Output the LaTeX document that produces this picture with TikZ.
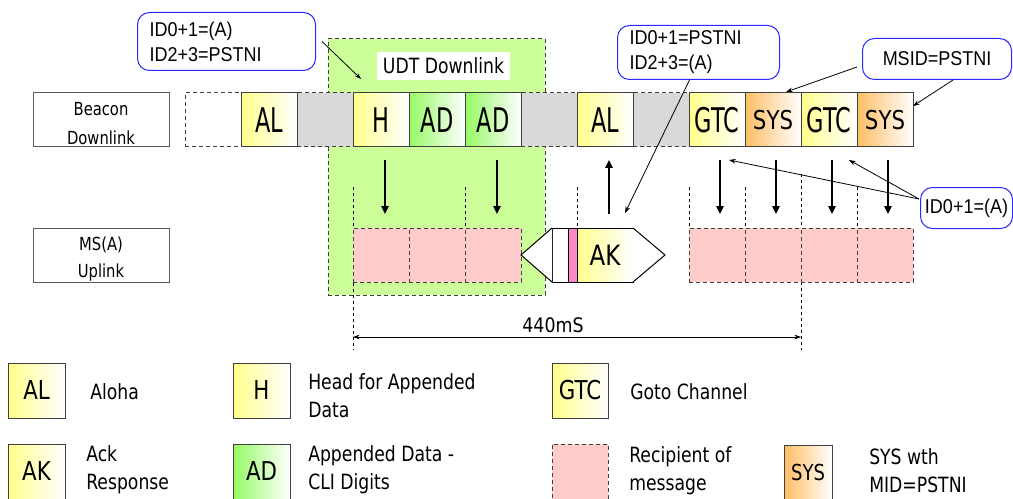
\documentclass[tikz,border=0pt]{standalone}
\usepackage{fontspec}
\usetikzlibrary{arrows.meta,calc}
\newfontfamily\legfont{DejaVu Sans}[FakeStretch=0.82]
\newfontfamily\slotfont{DejaVu Sans}[FakeStretch=0.66]
\newfontfamily\msfont{DejaVu Sans}[FakeStretch=0.87]
\newfontfamily\arialfont{Liberation Sans}[FakeStretch=0.9]
\definecolor{cyel}{RGB}{255,255,140}
\definecolor{cgrn}{RGB}{150,250,100}
\definecolor{corg}{RGB}{255,190,100}
\definecolor{cgreg}{RGB}{204,255,153}
\definecolor{cpink}{RGB}{255,204,204}
\definecolor{cgray}{RGB}{217,217,217}
\definecolor{cbar}{RGB}{255,136,200}
\definecolor{cblue}{RGB}{40,40,255}
\definecolor{cedge}{RGB}{64,64,64}
\tikzset{
 box/.style={inner sep=0pt, outer sep=0pt, anchor=north west, minimum width=42pt, minimum height=40.5pt},
 solidslot/.style={box, draw=cedge, line width=0.75pt},
 dashslot/.style={box, draw=cedge, line width=0.75pt, dash pattern=on 3pt off 2.25pt},
 yslot/.style={solidslot, left color=cyel, right color=white, font=\slotfont\fontsize{25.5}{25.5}\selectfont},
 gslot/.style={yslot, left color=cgrn},
 oslot/.style={solidslot, left color=corg, right color=white, font=\legfont\fontsize{19.5}{19.5}\selectfont},
 grayslot/.style={dashslot, fill=cgray},
 emptyslot/.style={dashslot, fill=white},
 pinkslot/.style={dashslot, fill=cpink},
 legbox/.style={solidslot, minimum width=42.75pt, minimum height=41.25pt, font=\legfont\fontsize{19.5}{19.5}\selectfont},
 legtext/.style={anchor=west, inner sep=0pt, align=left, font=\legfont\fontsize{15.75}{21}\selectfont},
 lbltext/.style={inner sep=0pt, font=\legfont\fontsize{13.5}{13.5}\selectfont},
 callout/.style={draw=cblue, line width=0.75pt, rounded corners=9pt, fill=white, anchor=north west, inner ysep=0pt, font=\arialfont\fontsize{15}{18.75}\selectfont},
 bigarrow/.style={line width=1.5pt, -{Triangle[length=6pt,width=5.5pt]}},
 thinarrow/.style={line width=0.6pt, -{Stealth[length=5pt,width=3.5pt]}},
 dimarrow/.style={line width=0.6pt, {Stealth[length=5pt,width=3.5pt]}-{Stealth[length=5pt,width=3.5pt]}},
 guide/.style={line width=0.6pt, dash pattern=on 2.25pt off 2.25pt},
}
\begin{document}
\begin{tikzpicture}[x=0.75pt,y=-0.75pt]
\useasboundingbox (0,0) rectangle (1013,499);
% UDT downlink region
\node[box, fill=cgreg, draw=cedge, line width=0.75pt, dash pattern=on 3pt off 2.25pt, minimum width=162.75pt, minimum height=192pt] (udt) at (328,39) {};
\node[box, fill=white, minimum width=99.75pt, minimum height=21pt, font=\legfont\fontsize{15.75}{15.75}\selectfont] (udtl) at (377,52) {UDT Downlink};
% row labels
\node[solidslot, minimum width=102pt, draw=black!65] (bl) at (33,93) {};
\node[lbltext] (blt1) at (101,109) {Beacon};
\node[lbltext] (blt2) at (101,138) {Downlink};
\node[solidslot, minimum width=102pt, draw=black!65] (ml) at (33,228) {};
\node[lbltext] (mlt1) at (101,245) {MS(A)};
\node[lbltext] (mlt2) at (101,273) {Uplink};
% guides
\draw[guide] (353,187) -- (353,350);
\draw[guide] (801,174) -- (801,350);
\foreach \gx in {465,577,689,745,857} \draw[guide] (\gx,187) -- (\gx,228);
% downlink row
\node[emptyslot] (d0) at (185,93) {};
\node[grayslot] (g1) at (297,93) {};
\node[grayslot] (g2) at (521,93) {};
\node[grayslot] (g3) at (633,93) {};
\node[yslot] (al1) at (241,93) {AL};
\node[yslot] (h) at (353,93) {H};
\node[gslot] (ad1) at (409,93) {AD};
\node[gslot] (ad2) at (465,93) {AD};
\node[yslot] (al2) at (577,93) {AL};
\node[yslot] (gtc1) at (689,93) {GTC};
\node[oslot] (sys1) at (745,93) {SYS};
\node[yslot] (gtc2) at (801,93) {GTC};
\node[oslot] (sys2) at (857,93) {SYS};
% uplink row
\node[pinkslot] (u1) at (353,228) {};
\node[pinkslot] (u2) at (409,228) {};
\node[pinkslot] (u3) at (465,228) {};
\node[pinkslot] (u4) at (689,228) {};
\node[pinkslot] (u5) at (745,228) {};
\node[pinkslot] (u6) at (801,228) {};
\node[pinkslot] (u7) at (857,228) {};
% AK burst
\node[solidslot, draw=black, fill=white, minimum width=12pt] (akw) at (552,228) {};
\node[solidslot, draw=black, fill=cbar, minimum width=6.75pt] (akp) at (568,228) {};
\node[yslot, draw=black, font=\legfont\fontsize{21}{21}\selectfont] (ak) at (577,228) {AK};
\coordinate (akL) at (521,255);
\coordinate (akR) at (665,255);
\draw[line width=0.75pt, fill=white] (akw.north west) -- (akL) -- (akw.south west);
\draw[line width=0.75pt, fill=white] (ak.north east) -- (akR) -- (ak.south east);
% vertical arrows
\draw[bigarrow] ($(h.south)+(4,13)$) -- ($(h.south)+(4,67)$);
\draw[bigarrow] ($(ad2.south)+(4,13)$) -- ($(ad2.south)+(4,67)$);
\draw[bigarrow] ($(al2.south)+(4,67)$) -- ($(al2.south)+(4,13)$);
\draw[bigarrow] ($(gtc1.south)+(3,13)$) -- ($(gtc1.south)+(3,67)$);
\draw[bigarrow] ($(sys1.south)+(3,13)$) -- ($(sys1.south)+(3,67)$);
\draw[bigarrow] ($(gtc2.south)+(3,13)$) -- ($(gtc2.south)+(3,67)$);
\draw[bigarrow] ($(sys2.south)+(3,13)$) -- ($(sys2.south)+(3,67)$);
% callouts
\node[callout, inner xsep=9pt, text width=115.5pt, minimum height=43.5pt, align=left] (c1) at (137,12) {ID0+1=(A)\\ID2+3=PSTNI};
\node[callout, inner xsep=9pt, text width=103.5pt, minimum height=40.5pt, align=left] (c2) at (617,25) {ID0+1=PSTNI\\ID2+3=(A)};
\node[callout, inner xsep=9pt, text width=93.75pt, minimum height=30.75pt, align=center] (c3) at (862,38) {MSID=PSTNI};
\node[callout, inner xsep=3pt, text width=63pt, minimum height=30.75pt, align=center] (c4) at (920,187) {ID0+1=(A)};
\draw[thinarrow] ($(c1.east)+(6,0)$) -- ($(h.north west)+(8,-14)$);
\draw[thinarrow] ($(c2.south)+(-9,0)$) -- ($(ak.north)+(20,-15)$);
\draw[thinarrow] ($(c3.south west)+(-5,-13)$) -- ($(sys1.north)+(13,-1)$);
\draw[thinarrow] ($(c3.south)+(16,0)$) -- ($(sys2.north east)+(0,13)$);
\draw[thinarrow] ($(c4.west)+(-1,-9)$) -- ($(gtc1.south)+(12,13)$);
\draw[thinarrow] ($(c4.west)+(-1,-9)$) -- ($(gtc2.south)+(20,13)$);
% 440mS
\coordinate (m1) at (353,337);
\coordinate (m2) at (801,337);
\draw[dimarrow] (m1) -- (m2);
\node[inner sep=0pt, font=\msfont\fontsize{15}{15}\selectfont] (ms) at (553,325) {440mS};
% legend
\node[legbox, left color=cyel, right color=white] (lal) at (8,363) {AL};
\node[legtext] (tal) at (90,392) {Aloha};
\node[legbox, left color=cyel, right color=white] (lh) at (233,363) {H};
\node[legtext] (th) at (308,396) {Head for Appended\\Data};
\node[legbox, left color=cyel, right color=white, minimum width=42pt] (lgtc) at (552,363) {GTC};
\node[legtext] (tgtc) at (630,392) {Goto Channel};
\node[legbox, left color=cyel, right color=white] (lak) at (8,444) {AK};
\node[legtext] (tak) at (86,470) {Ack\\Response};
\node[legbox, left color=cgrn, right color=white] (lad) at (233,444) {AD};
\node[legtext] (tad) at (308,470) {Appended Data -\\CLI Digits};
\node[pinkslot, minimum height=41.25pt] (lpk) at (552,444) {};
\node[legtext] (tpk) at (629,471) {Recipient of\\message};
\node[legbox, left color=corg, right color=white, minimum width=36pt, minimum height=40.5pt, font=\legfont\fontsize{16.5}{16.5}\selectfont] (lsys) at (784,445) {SYS};
\node[legtext] (tsys) at (869,471) {SYS wth\\MID=PSTNI};
\end{tikzpicture}
\end{document}
